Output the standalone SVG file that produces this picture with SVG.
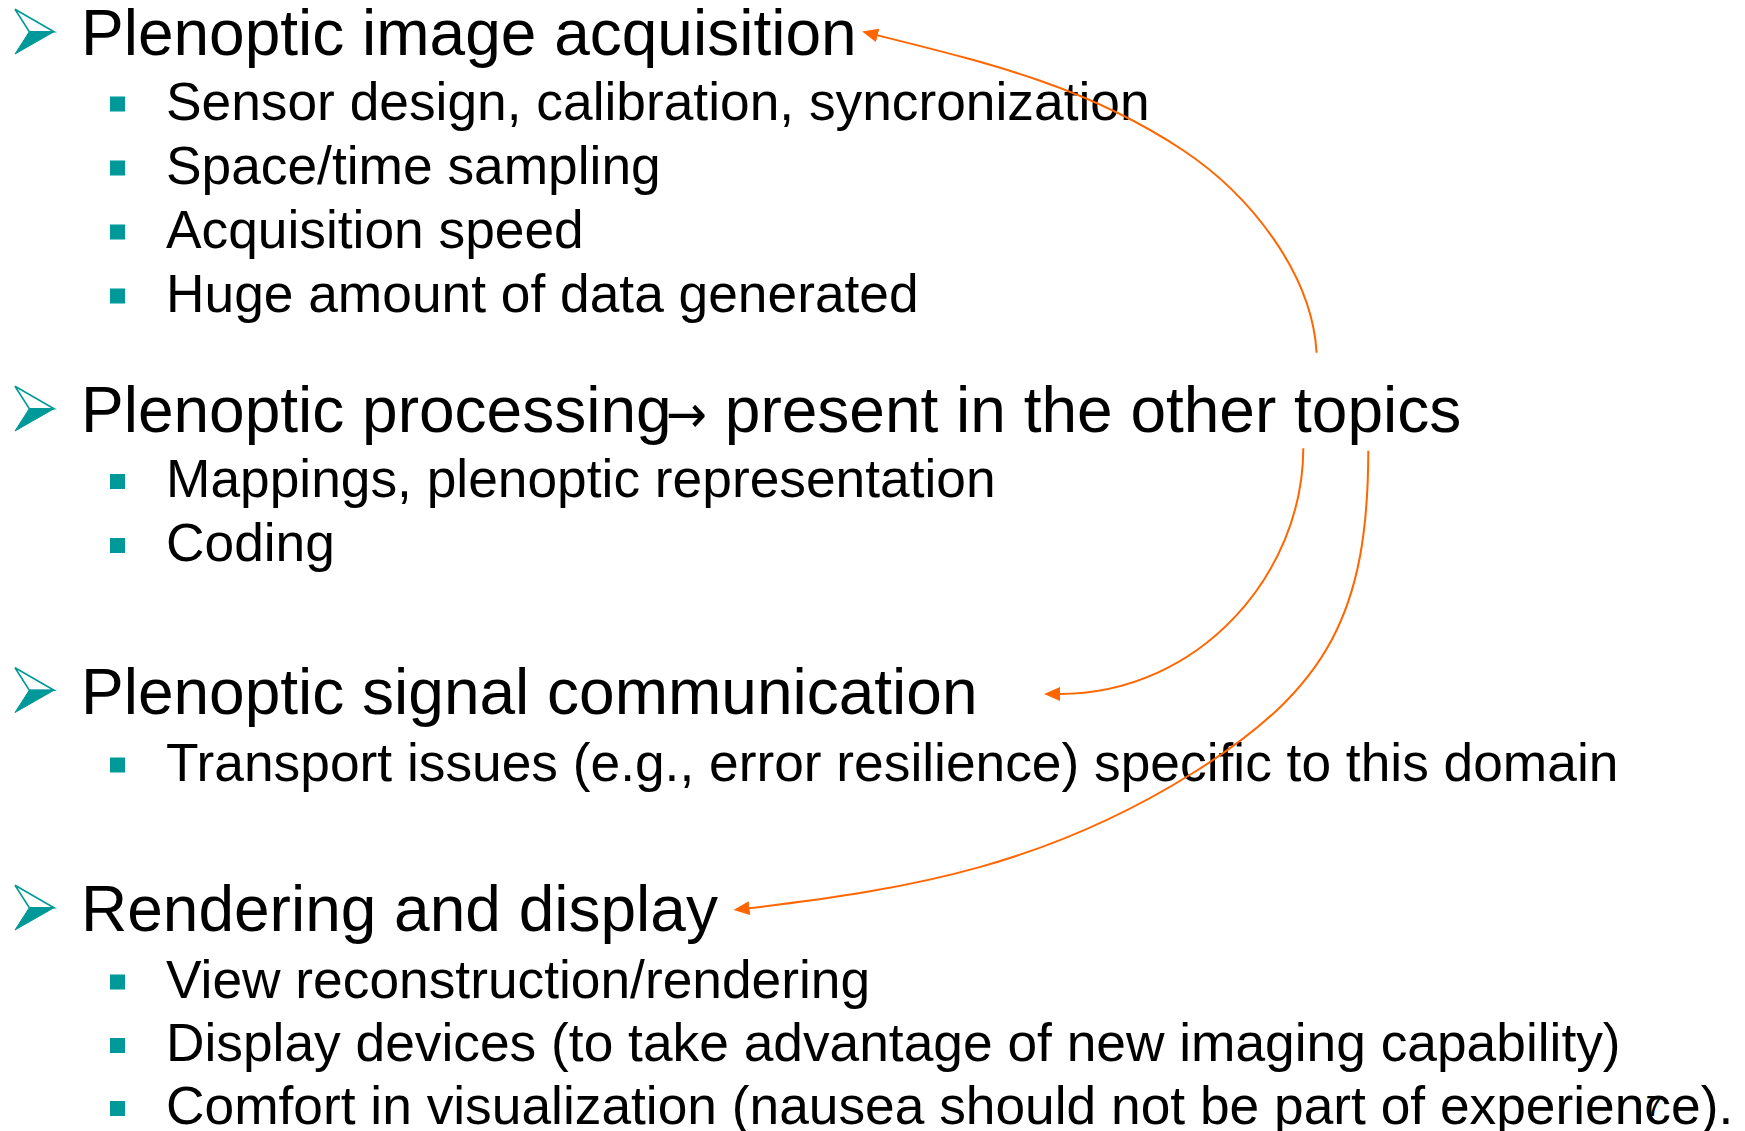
<svg xmlns="http://www.w3.org/2000/svg" xmlns:xlink="http://www.w3.org/1999/xlink" width="1745" height="1131" viewBox="0 0 1745 1131">
<style>
.h{font-family:"Liberation Sans",Arial,sans-serif;font-size:64px;fill:#000}
.s{font-family:"Liberation Sans",Arial,sans-serif;font-size:53.3px;fill:#000}
.ar{font-family:"DejaVu Sans",sans-serif;font-size:52px}
.sq{fill:#009999}
.con{fill:none;stroke:#FF6600;stroke-width:2}
.pg{font-family:"Liberation Sans",Arial,sans-serif;font-size:30px;fill:#000}
</style>
<defs>
<g id="ab">
<path d="M0,0 L39,22.4 L14.3,22.4 Z" fill="#ffffff" stroke="#009999" stroke-width="1.6" stroke-linejoin="miter"/>
<path d="M14.3,22.4 L39,22.4 L0,44.7 Z" fill="#009999" stroke="#009999" stroke-width="1"/>
</g>
<marker id="ah" markerUnits="userSpaceOnUse" markerWidth="16" markerHeight="14" viewBox="0 0 15 13" refX="1" refY="6.5" orient="auto">
<path d="M0,0 L15,6.5 L0,13 Z" fill="#FF6600"/>
</marker>
</defs>
<rect width="1745" height="1131" fill="#ffffff"/>

<g id="topic1">
<use xlink:href="#ab" x="15" y="9.3"/>
<text class="h" x="81" y="55">Plenoptic image acquisition</text>
<rect class="sq" x="110" y="96.5" width="15" height="15"/>
<text class="s" x="166" y="119.5">Sensor design, calibration, syncronization</text>
<rect class="sq" x="110" y="160.5" width="15" height="15"/>
<text class="s" x="166" y="183.5">Space/time sampling</text>
<rect class="sq" x="110" y="224.5" width="15" height="15"/>
<text class="s" x="166" y="247.5">Acquisition speed</text>
<rect class="sq" x="110" y="288.5" width="15" height="15"/>
<text class="s" x="166" y="311.5">Huge amount of data generated</text>
</g>

<g id="topic2">
<use xlink:href="#ab" x="15" y="386.3"/>
<text class="h" y="432"><tspan x="81">Plenoptic processing</tspan><tspan class="ar" x="666" textLength="41" lengthAdjust="spacingAndGlyphs">→</tspan><tspan x="707"> present in the other topics</tspan></text>
<rect class="sq" x="110" y="474" width="15" height="15"/>
<text class="s" x="166" y="497">Mappings, plenoptic representation</text>
<rect class="sq" x="110" y="538" width="15" height="15"/>
<text class="s" x="166" y="561">Coding</text>
</g>

<g id="topic3">
<use xlink:href="#ab" x="15" y="667.8"/>
<text class="h" x="81" y="713.5">Plenoptic signal communication</text>
<rect class="sq" x="110" y="757.5" width="15" height="15"/>
<text class="s" x="166" y="780.5">Transport issues (e.g., error resilience) specific to this domain</text>
</g>

<g id="topic4">
<use xlink:href="#ab" x="15" y="885.3"/>
<text class="h" x="81" y="931">Rendering and display</text>
<rect class="sq" x="110" y="974.5" width="15" height="15"/>
<text class="s" x="166" y="997.5">View reconstruction/rendering</text>
<rect class="sq" x="110" y="1038" width="15" height="15"/>
<text class="s" x="166" y="1061">Display devices (to take advantage of new imaging capability)</text>
<rect class="sq" x="110" y="1101" width="15" height="15"/>
<text class="s" x="166" y="1124">Comfort in visualization (nausea should not be part of experience).</text>
</g>

<g id="connectors">
<path class="con" marker-end="url(#ah)" d="M1316.6,352.7 C1312,272.7 1249.3,194.2 1182.7,150 C1086.9,86.4 988.2,63 876.6,35.1"/>
<path class="con" marker-end="url(#ah)" d="M1303.3,448.3 C1303.3,573 1200,694 1059,694"/>
<path class="con" marker-end="url(#ah)" d="M1368.3,450.7 C1368,611 1329,688.2 1193,773 C1048.5,863.1 916.8,888.8 748.4,908.3"/>
</g>

<g id="page-number">
<text class="pg" x="1654" y="1116" text-anchor="middle">7</text>
</g>
</svg>
